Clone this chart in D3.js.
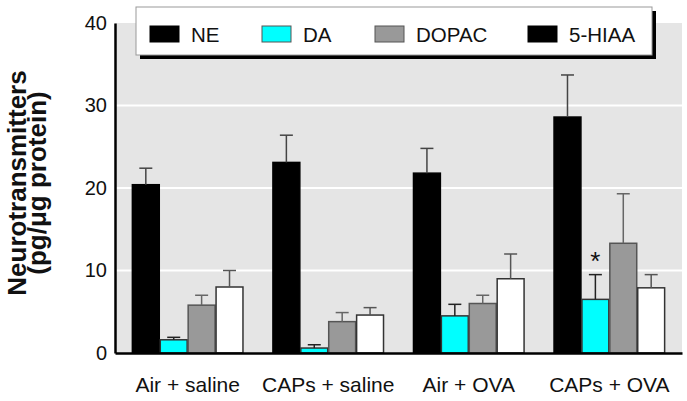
<!DOCTYPE html>
<html>
<head>
<meta charset="utf-8">
<script src="https://cdn.jsdelivr.net/npm/d3@7"></script>
<style>
  html, body { margin: 0; padding: 0; background: #fff; }
  svg { display: block; }
</style>
</head>
<body>
<svg id="chart" width="687" height="401"></svg>
<script>
// ---- data ----
const groups = ["Air + saline", "CAPs + saline", "Air + OVA", "CAPs + OVA"];
const seriesNames = ["NE", "DA", "DOPAC", "5-HIAA"];
const neValues = [20.4, 23.1, 21.8, 28.6];
const neErrors = [2.0, 3.3, 3.0, 5.1];
const daValues = [1.6, 0.6, 4.5, 6.5];
const daErrors = [0.3, 0.4, 1.4, 3.0];
const dopacValues = [5.8, 3.8, 6.0, 13.3];
const dopacErrors = [1.2, 1.1, 1.0, 6.0];
const hiaaValues = [8.0, 4.6, 9.0, 7.9];
const hiaaErrors = [2.0, 0.9, 3.0, 1.6];
const yTicks = [0, 10, 20, 30, 40];
const significant = [{ group: "CAPs + OVA", series: "DA", mark: "*" }];

// ---- styling ----
const barFill = { "NE": "#000000", "DA": "#00ffff", "DOPAC": "#999999", "5-HIAA": "#ffffff" };
const barStroke = { "NE": "#000000", "DA": "#333333", "DOPAC": "#555555", "5-HIAA": "#333333" };
const errStroke = { "NE": "#444444", "DA": "#222222", "DOPAC": "#666666", "5-HIAA": "#555555" };
const legendFill = { "NE": "#000000", "DA": "#00ffff", "DOPAC": "#999999", "5-HIAA": "#000000" };

const seriesData = {
  "NE": { v: neValues, e: neErrors },
  "DA": { v: daValues, e: daErrors },
  "DOPAC": { v: dopacValues, e: dopacErrors },
  "5-HIAA": { v: hiaaValues, e: hiaaErrors }
};

const rows = [];
groups.forEach((g, gi) => {
  seriesNames.forEach(s => {
    rows.push({ group: g, series: s, value: seriesData[s].v[gi], err: seriesData[s].e[gi] });
  });
});

const svg = d3.select("#chart");
const plotLeft = 115, plotRight = 682, plotTop = 23, plotBottom = 353;
const fontFam = "'Liberation Sans', Arial, sans-serif";

const y = d3.scaleLinear().domain([0, 40]).range([plotBottom, plotTop]);
const x0 = d3.scaleBand().domain(groups).range([plotLeft, plotRight]).paddingInner(0.206).paddingOuter(0.12);
const x1 = d3.scaleBand().domain(seriesNames).range([0, x0.bandwidth()]).padding(0);

// plot background
svg.append("rect").attr("x", plotLeft).attr("y", plotTop).attr("width", plotRight - plotLeft).attr("height", plotBottom - plotTop)
  .attr("fill", "#e5e5e5");

// gridlines
svg.append("g").selectAll("line").data(yTicks.filter(t => t > 0 && t < 40)).join("line")
  .attr("x1", plotLeft).attr("x2", plotRight)
  .attr("y1", d => y(d)).attr("y2", d => y(d))
  .attr("stroke", "#ffffff").attr("stroke-width", 2);

// bars
const barG = svg.append("g");
barG.selectAll("rect").data(rows).join("rect")
  .attr("x", d => x0(d.group) + x1(d.series) + 0.5)
  .attr("width", x1.bandwidth() - 1)
  .attr("y", d => y(d.value))
  .attr("height", d => y(0) - y(d.value))
  .attr("fill", d => barFill[d.series])
  .attr("stroke", d => barStroke[d.series])
  .attr("stroke-width", 1.5);

// error bars (upper only)
const capW = 13;
const errG = svg.append("g");
rows.forEach(d => {
  const cx = x0(d.group) + x1(d.series) + x1.bandwidth() / 2;
  const yTop = y(d.value + d.err);
  errG.append("line").attr("x1", cx).attr("x2", cx).attr("y1", y(d.value)).attr("y2", yTop)
    .attr("stroke", errStroke[d.series]).attr("stroke-width", 1.5);
  errG.append("line").attr("x1", cx - capW / 2).attr("x2", cx + capW / 2).attr("y1", yTop).attr("y2", yTop)
    .attr("stroke", errStroke[d.series]).attr("stroke-width", 1.5);
});

// significance marks
significant.forEach(s => {
  const d = rows.find(r => r.group === s.group && r.series === s.series);
  const cx = x0(s.group) + x1(s.series) + x1.bandwidth() / 2;
  svg.append("text").attr("x", cx).attr("y", y(d.value + d.err) - 5)
    .attr("text-anchor", "middle").attr("font-family", fontFam).attr("font-size", 26)
    .attr("fill", "#111").text(s.mark);
});

// y axis
const yAxis = d3.axisLeft(y).tickValues(yTicks).tickSize(0).tickSizeOuter(0).tickPadding(8);
const yG = svg.append("g").attr("transform", `translate(${plotLeft},0)`).call(yAxis);
yG.select(".domain").attr("stroke", "#000").attr("stroke-width", 2.5);
yG.selectAll("text").attr("font-family", fontFam).attr("font-size", 20).attr("fill", "#111");

// x axis
const xAxis = d3.axisBottom(x0).tickSize(0).tickSizeOuter(0).tickPadding(24);
const xG = svg.append("g").attr("transform", `translate(0,${plotBottom})`).call(xAxis);
xG.select(".domain").attr("stroke", "#000").attr("stroke-width", 2.5);
xG.selectAll("text").attr("font-family", fontFam).attr("font-size", 21).attr("fill", "#111");

// y title
const title = svg.append("text").attr("transform", "translate(0,183) rotate(-90)")
  .attr("text-anchor", "middle").attr("font-family", fontFam).attr("font-weight", "bold")
  .attr("font-size", 26).attr("fill", "#111");
title.append("tspan").attr("x", 0).attr("y", 26).text("Neurotransmitters");
title.append("tspan").attr("x", 0).attr("y", 46).text("(pg/\u03bcg protein)");

// legend
const lx = 136, ly = 7, lw = 516, lh = 48;
svg.append("rect").attr("x", lx + 4).attr("y", ly + 4).attr("width", lw).attr("height", lh).attr("fill", "#000");
svg.append("rect").attr("x", lx).attr("y", ly).attr("width", lw).attr("height", lh)
  .attr("fill", "#fff").attr("stroke", "#999").attr("stroke-width", 1);
const legendX = [150, 262, 375, 528];
const lg = svg.append("g").selectAll("g").data(seriesNames).join("g")
  .attr("transform", (d, i) => `translate(${legendX[i]},0)`);
lg.append("rect").attr("x", 0).attr("y", 26).attr("width", 29).attr("height", 16)
  .attr("fill", d => legendFill[d]).attr("stroke", d => d === "NE" || d === "5-HIAA" ? "#000" : "#555").attr("stroke-width", 1);
lg.append("text").attr("x", 41).attr("y", 42).attr("font-family", fontFam).attr("font-size", 20.5)
  .attr("fill", "#111").text(d => d);
</script>
</body>
</html>
